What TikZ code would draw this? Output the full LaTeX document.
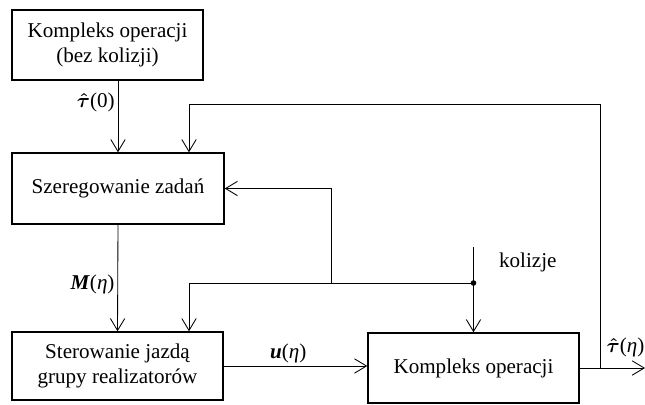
\documentclass[tikz,border=0pt]{standalone}
\usepackage{amsmath}
\usepackage{fontspec}
\setmainfont{Liberation Serif}
\usepackage{tikz}
\usetikzlibrary{arrows.meta,positioning,calc}
\tikzset{
  box/.style={rectangle, draw=black, line width=1pt, minimum width=#1,
    minimum height=1.75cm, align=center, inner sep=0pt,
    font=\fontsize{15}{17.5}\selectfont},
  box/.default=5.3cm,
  flow/.style={-{Straight Barb[length=3mm,width=3.6mm]}, line width=0.6pt},
  lbl/.style={font=\fontsize{15}{17.5}\selectfont, inner sep=2pt},
}
\newcommand{\bv}[1]{\textbf{\textit{#1}}}
\newcommand{\tauhat}{\ensuremath{\boldsymbol{\hat{\tau}}}}

\begin{document}
\begin{tikzpicture}
    \useasboundingbox (0,0) rectangle (16.125,-10.125);

    \node[box=4.775cm] (kompl) at (2.6875,-1.125) {Kompleks operacji\\ (bez kolizji)};
    \node[box=5.3cm, minimum height=1.775cm] (szer) at (2.95,-4.7125) {Szeregowanie zadań};
    \node[box=5.275cm, minimum height=1.7cm] (ster) at (2.9375,-9.15) {Sterowanie jazdą\\ grupy realizatorów};
    \node[box=5.275cm] (kompop) at (11.8375,-9.2) {Kompleks operacji};

    \coordinate (tap) at (15.0,-9.2);
    \coordinate (out) at (16.125,-9.2);
    \coordinate (fbtop) at (15.0,-2.6);
    \coordinate (kol) at (11.8375,-6.175);
    \coordinate (split) at (11.8375,-7.075);
    \coordinate (br) at (8.275,-7.075);

    \draw[flow] (szer.north |- kompl.south) -- node[lbl, pos=0.3, left] {\tauhat(0)} (szer.north);
    \draw[flow] (szer.south) -- node[lbl, pos=0.56, left] {\bv{M}(\textit{η})} (ster.north);
    \draw[flow] (ster.east) -- node[lbl, pos=0.45, above] {\bv{u}(\textit{η})} (ster.east -| kompop.west);
    \draw[flow] (kompop.east) -- node[lbl, pos=0.7, above, yshift=0.2cm] {\tauhat(\textit{η})} (out);
    \draw[flow] (tap) -- (fbtop) -| ($(szer.north)+(1.775,0)$);
    \draw[flow] (kol) -- (kompop.north);
    \draw[flow] (split) -| ($(ster.north)+(1.7875,0)$);
    \draw[flow] (br) |- (szer.east);
    \fill (split) circle (2pt);

    \node[lbl, anchor=west] (kollbl) at (12.4,-6.55) {kolizje};
\end{tikzpicture}
\end{document}
